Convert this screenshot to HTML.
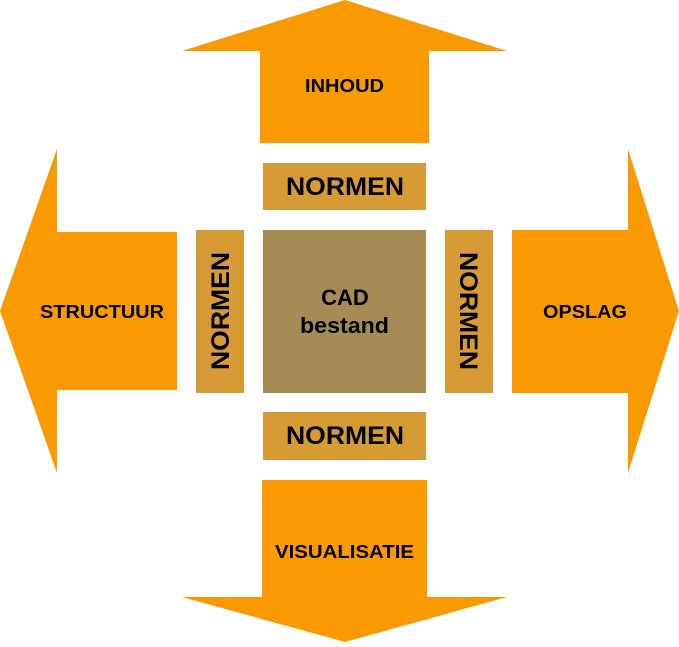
<!DOCTYPE html>
<html><head><style>
body{margin:0;background:#fff;width:679px;height:642px;overflow:hidden}
svg text{font-family:"Liberation Sans",Arial,sans-serif;font-weight:bold;fill:#000}
</style></head><body>
<svg width="679" height="642" viewBox="0 0 679 642">
<g fill="#fa9a00">
<polygon points="345,0 507,51 429,51 429,143 260,143 260,51 182,51"/>
<polygon points="345,642 507,597 427,597 427,480 262,480 262,597 182,597"/>
<polygon points="0,311 57,149 57,232 177,232 177,390 57,390 57,473"/>
<polygon points="679,311 628,149 628,230 512,230 512,393 628,393 628,473"/>
</g>
<g fill="#d69b34">
<rect x="263" y="163" width="163" height="47"/>
<rect x="263" y="412" width="163" height="48"/>
<rect x="196" y="230" width="48" height="163"/>
<rect x="445" y="230" width="48" height="163"/>
</g>
<rect x="263" y="230" width="163" height="163" fill="#a68b55"/>
<text x="305" y="92" font-size="18" textLength="79" lengthAdjust="spacingAndGlyphs">INHOUD</text>
<text x="275" y="558" font-size="18" textLength="139" lengthAdjust="spacingAndGlyphs">VISUALISATIE</text>
<text x="40" y="318" font-size="18" textLength="124" lengthAdjust="spacingAndGlyphs">STRUCTUUR</text>
<text x="543" y="318" font-size="18" textLength="84" lengthAdjust="spacingAndGlyphs">OPSLAG</text>
<text x="286" y="195" font-size="25" textLength="118" lengthAdjust="spacingAndGlyphs">NORMEN</text>
<text x="286" y="444" font-size="25" textLength="118" lengthAdjust="spacingAndGlyphs">NORMEN</text>
<text x="345" y="305" font-size="22" text-anchor="middle">CAD</text>
<text x="300" y="333" font-size="22" textLength="89" lengthAdjust="spacingAndGlyphs">bestand</text>
<text transform="translate(229,370) rotate(-90)" font-size="25" textLength="118" lengthAdjust="spacingAndGlyphs">NORMEN</text>
<text transform="translate(460,252) rotate(90)" font-size="25" textLength="118" lengthAdjust="spacingAndGlyphs">NORMEN</text>
</svg>
</body></html>
